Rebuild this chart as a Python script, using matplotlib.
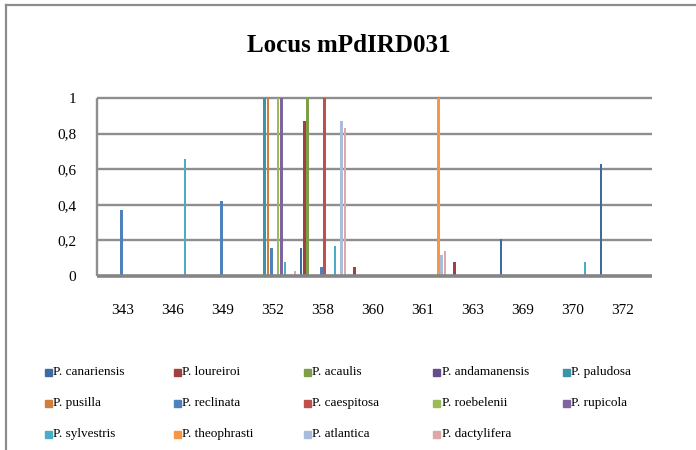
import numpy as np
import matplotlib; matplotlib.use("Agg")
import matplotlib.pyplot as plt
from matplotlib.patches import Rectangle
from matplotlib.lines import Line2D

plt.rcParams.update({"font.family": ["Liberation Serif", "DejaVu Serif"]})

alleles = ["343", "346", "349", "352", "358", "360", "361", "363", "369", "370", "372"]
species = ["P. canariensis", "P. loureiroi", "P. acaulis", "P. andamanensis", "P. paludosa",
           "P. pusilla", "P. reclinata", "P. caespitosa", "P. roebelenii", "P. rupicola",
           "P. sylvestris", "P. theophrasti", "P. atlantica", "P. dactylifera"]
colors = ["#3D6AA0", "#A04040", "#7F9E48", "#664E8A", "#3D93A8", "#D07F3A", "#4F81BD",
          "#C0504D", "#9BBB59", "#8064A2", "#4BACC6", "#F79646", "#A9BCDC", "#DCA8A8"]

# allele frequencies, one list per species over the 11 alleles
canariensis  = [0, 0, 0, 0, 0.16, 0, 0, 0, 0.21, 0, 0.63]
loureiroi    = [0, 0, 0, 0, 0.87, 0.05, 0, 0.08, 0, 0, 0]
acaulis      = [0, 0, 0, 0, 1.0, 0, 0, 0, 0, 0, 0]
andamanensis = [0, 0, 0, 0, 0, 0, 0, 0, 0, 0, 0]
paludosa     = [0, 0, 0, 1.0, 0, 0, 0, 0, 0, 0, 0]
pusilla      = [0, 0, 0, 1.0, 0, 0, 0, 0, 0, 0, 0]
reclinata    = [0.37, 0, 0.42, 0.16, 0.05, 0, 0, 0, 0, 0, 0]
caespitosa   = [0, 0, 0, 0, 1.0, 0, 0, 0, 0, 0, 0]
roebelenii   = [0, 0, 0, 1.0, 0, 0, 0, 0, 0, 0, 0]
rupicola     = [0, 0, 0, 1.0, 0, 0, 0, 0, 0, 0, 0]
sylvestris   = [0, 0.66, 0, 0.08, 0.17, 0, 0, 0, 0, 0.08, 0]
theophrasti  = [0, 0, 0, 0, 0, 0, 1.0, 0, 0, 0, 0]
atlantica    = [0, 0, 0, 0, 0.87, 0, 0.12, 0, 0, 0, 0]
dactylifera  = [0, 0, 0, 0.03, 0.83, 0, 0.14, 0, 0, 0, 0]
freqs = [canariensis, loureiroi, acaulis, andamanensis, paludosa, pusilla, reclinata,
         caespitosa, roebelenii, rupicola, sylvestris, theophrasti, atlantica, dactylifera]

ytick_vals = [0, 0.2, 0.4, 0.6, 0.8, 1.0]
ytick_labels = ["0", "0,2", "0,4", "0,6", "0,8", "1"]

W, H = 696, 450
GRID = "#8E8E8E"
fig = plt.figure(figsize=(W / 100, H / 100), dpi=100)
ax = fig.add_axes([97 / W, (H - 276) / H, 555 / W, 178 / H])

x = np.arange(len(alleles))
slot = 0.068
for i, (vals, c) in enumerate(zip(freqs, colors)):
    v = np.array(vals)
    m = v > 0
    ax.bar(x[m] + (i - 6.5) * slot, v[m], width=0.05, color=c, zorder=3, linewidth=0)

ax.set_xlim(-0.52, 10.58)
ax.set_ylim(0, 1.0)
ax.hlines(ytick_vals[1:], -0.52, 10.58, colors=GRID, lw=1.7, zorder=1, clip_on=False)
ax.hlines([0], -0.52, 10.58, colors="#858585", lw=2.6, zorder=4, clip_on=False)
ax.vlines([-0.52], 0, 1.0, colors=GRID, lw=1.7, zorder=1, clip_on=False)
for s in ax.spines.values():
    s.set_visible(False)
ax.set_xticks(x)
ax.set_xticklabels(alleles, fontsize=11)
ax.set_yticks(ytick_vals)
ax.set_yticklabels(ytick_labels, fontsize=11)
ax.tick_params(length=0)
ax.tick_params(axis="x", pad=20)
ax.tick_params(axis="y", pad=15)

fig.text(349 / W, 1 - 45 / H, "Locus mPdIRD031", ha="center", va="center",
         fontsize=18, fontweight="bold")

# legend, laid out row by row like the spreadsheet legend
for k, (lab, c) in enumerate(zip(species, colors)):
    r, col = divmod(k, 5)
    x0, y0 = 45 + 129.5 * col, 372 + 31 * r
    fig.patches.append(Rectangle((x0 / W, 1 - (y0 + 3.5) / H), 7 / W, 7 / H,
                                 transform=fig.transFigure, color=c))
    fig.text((x0 + 8) / W, 1 - y0 / H, lab, ha="left", va="center", fontsize=9.5)

# outer chart frame
fig.add_artist(Line2D([6 / W, 6 / W], [0, 1 - 5 / H], color="#8C8C8C", lw=1.6))
fig.add_artist(Line2D([6 / W, 1], [1 - 5 / H, 1 - 5 / H], color="#8C8C8C", lw=1.6))

fig.savefig("out.png", dpi=100, facecolor="white")
